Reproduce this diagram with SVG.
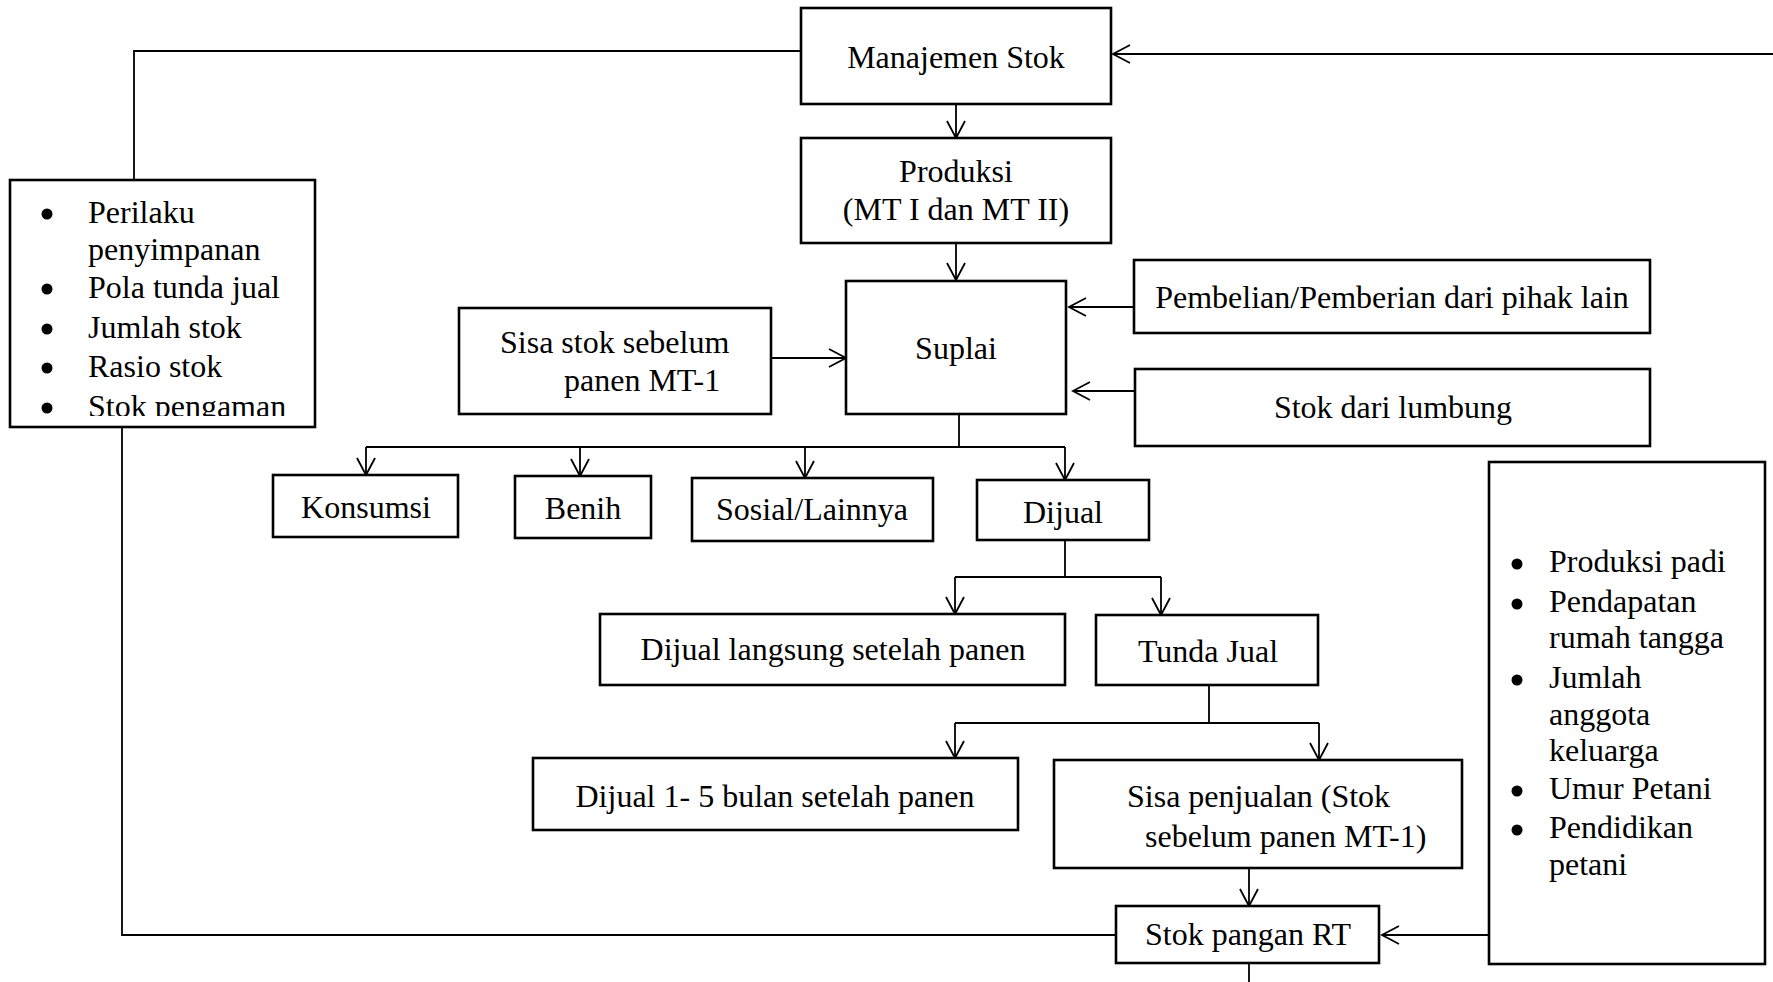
<svg xmlns="http://www.w3.org/2000/svg" width="1773" height="982" viewBox="0 0 1773 982">
<style>
.box{fill:#fff;stroke:#000;stroke-width:2.6}
.t{font-family:"Liberation Serif","Times New Roman",serif;font-size:32px;fill:#000}
.c{text-anchor:middle}
.ln{fill:none;stroke:#000;stroke-width:1.8}
.ar{fill:none;stroke:#000;stroke-width:1.8;marker-end:url(#arr)}
.b{fill:#000}
</style>
<defs>
<marker id="arr" markerUnits="userSpaceOnUse" orient="auto" refX="0" refY="0" markerWidth="40" markerHeight="40" viewBox="-20 -20 40 40" overflow="visible">
<path d="M-17,-9 L0,0 L-17,9" fill="none" stroke="#000" stroke-width="1.8"/>
</marker>
<clipPath id="clipL"><rect x="10" y="180" width="305" height="236"/></clipPath>
</defs>
<rect width="1773" height="982" fill="#fff"/>
<g id="connectors">
<path class="ln" d="M134,180 V51 H801"/>
<path class="ar" d="M1773,54 H1113"/>
<path class="ar" d="M956,104 V138"/>
<path class="ar" d="M956,243 V280"/>
<path class="ar" d="M771,358 H846"/>
<path class="ar" d="M1134,307 H1069"/>
<path class="ar" d="M1135,391 H1073"/>
<path class="ln" d="M959,414 V447 M366,447 H1065"/>
<path class="ar" d="M366,447 V475"/>
<path class="ar" d="M580,447 V476"/>
<path class="ar" d="M805,447 V478"/>
<path class="ar" d="M1065,447 V480"/>
<path class="ln" d="M1065,540 V577 M955,577 H1161"/>
<path class="ar" d="M955,577 V614"/>
<path class="ar" d="M1161,577 V615"/>
<path class="ln" d="M1209,685 V723 M955,723 H1319"/>
<path class="ar" d="M955,723 V758"/>
<path class="ar" d="M1319,723 V760"/>
<path class="ar" d="M1249,868 V906"/>
<path class="ln" d="M122,427 V935 H1116"/>
<path class="ar" d="M1489,935 H1382"/>
<path class="ln" d="M1249,963 V982"/>
</g>
<g id="manajemen">
<rect class="box" x="801" y="8" width="310" height="96"/>
<text class="t c" x="956" y="68">Manajemen Stok</text>
</g>
<g id="produksi">
<rect class="box" x="801" y="138" width="310" height="105"/>
<text class="t c" x="956" y="182">Produksi</text>
<text class="t c" x="956" y="220">(MT I dan MT II)</text>
</g>
<g id="suplai">
<rect class="box" x="846" y="281" width="220" height="133"/>
<text class="t c" x="956" y="359">Suplai</text>
</g>
<g id="sisa-stok">
<rect class="box" x="459" y="308" width="312" height="106"/>
<text class="t" x="500" y="353">Sisa stok sebelum</text>
<text class="t" x="564" y="391">panen MT-1</text>
</g>
<g id="pembelian">
<rect class="box" x="1134" y="260" width="516" height="73"/>
<text class="t c" x="1392" y="308">Pembelian/Pemberian dari pihak lain</text>
</g>
<g id="lumbung">
<rect class="box" x="1135" y="369" width="515" height="77"/>
<text class="t c" x="1393" y="418">Stok dari lumbung</text>
</g>
<g id="faktor-kiri">
<rect class="box" x="10" y="180" width="305" height="247"/>
<g clip-path="url(#clipL)">
<circle class="b" cx="47" cy="214" r="5.5"/>
<circle class="b" cx="47" cy="289" r="5.5"/>
<circle class="b" cx="47" cy="329" r="5.5"/>
<circle class="b" cx="47" cy="368" r="5.5"/>
<circle class="b" cx="47" cy="408" r="5.5"/>
<text class="t" x="88" y="223">Perilaku</text>
<text class="t" x="88" y="260">penyimpanan</text>
<text class="t" x="88" y="298">Pola tunda jual</text>
<text class="t" x="88" y="338">Jumlah stok</text>
<text class="t" x="88" y="377">Rasio stok</text>
<text class="t" x="88" y="417">Stok pengaman</text>
</g>
</g>
<g id="konsumsi">
<rect class="box" x="273" y="475" width="185" height="62"/>
<text class="t c" x="366" y="518">Konsumsi</text>
</g>
<g id="benih">
<rect class="box" x="515" y="476" width="136" height="62"/>
<text class="t c" x="583" y="519">Benih</text>
</g>
<g id="sosial">
<rect class="box" x="692" y="478" width="241" height="63"/>
<text class="t c" x="812" y="520">Sosial/Lainnya</text>
</g>
<g id="dijual">
<rect class="box" x="977" y="480" width="172" height="60"/>
<text class="t c" x="1063" y="523">Dijual</text>
</g>
<g id="dijual-langsung">
<rect class="box" x="600" y="614" width="465" height="71"/>
<text class="t c" x="833" y="660">Dijual langsung setelah panen</text>
</g>
<g id="tunda-jual">
<rect class="box" x="1096" y="615" width="222" height="70"/>
<text class="t c" x="1208" y="662">Tunda Jual</text>
</g>
<g id="dijual-1-5">
<rect class="box" x="533" y="758" width="485" height="72"/>
<text class="t c" x="775" y="807">Dijual 1- 5 bulan setelah panen</text>
</g>
<g id="sisa-penjualan">
<rect class="box" x="1054" y="760" width="408" height="108"/>
<text class="t" x="1127" y="807">Sisa penjualan (Stok</text>
<text class="t" x="1145" y="847">sebelum panen MT-1)</text>
</g>
<g id="stok-pangan">
<rect class="box" x="1116" y="906" width="263" height="57"/>
<text class="t c" x="1248" y="945">Stok pangan RT</text>
</g>
<g id="faktor-kanan">
<rect class="box" x="1489" y="462" width="276" height="502"/>
<circle class="b" cx="1517" cy="564" r="5.5"/>
<circle class="b" cx="1517" cy="604" r="5.5"/>
<circle class="b" cx="1517" cy="680" r="5.5"/>
<circle class="b" cx="1517" cy="791" r="5.5"/>
<circle class="b" cx="1517" cy="830" r="5.5"/>
<text class="t" x="1549" y="572">Produksi padi</text>
<text class="t" x="1549" y="612">Pendapatan</text>
<text class="t" x="1549" y="648">rumah tangga</text>
<text class="t" x="1549" y="688">Jumlah</text>
<text class="t" x="1549" y="725">anggota</text>
<text class="t" x="1549" y="761">keluarga</text>
<text class="t" x="1549" y="799">Umur Petani</text>
<text class="t" x="1549" y="838">Pendidikan</text>
<text class="t" x="1549" y="875">petani</text>
</g>
</svg>
